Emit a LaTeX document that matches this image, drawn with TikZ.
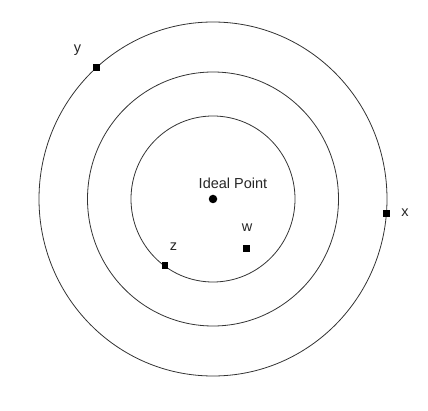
\documentclass[tikz,border=0pt]{standalone}
\usepackage{fontspec}
\setmainfont{Liberation Sans}
\usepackage{tikz}

\tikzset{
    ring/.style={draw=black!80, line width=0.8pt},
    sqmark/.style={fill=black, inner sep=0pt, minimum size=6.5pt},
    dotmark/.style={circle, fill=black, inner sep=0pt, minimum size=8.5pt},
    lab/.style={font=\fontsize{14.5}{17}\selectfont, text=black!85, inner sep=0pt}
}

\begin{document}
\begin{tikzpicture}[x=1pt, y=-1pt]
        \useasboundingbox (0, 0) rectangle (428, 411);
        % Circles
        \coordinate (centre) at (213, 199);
        \draw [ring] (centre) circle [x radius=174, y radius=177];
        \draw [ring] (centre) circle [x radius=125.5, y radius=127];
        \draw [ring] (centre) circle [x radius=82, y radius=83];
        % Points
        \node [dotmark] (ideal) at (centre) {};
        \node [sqmark] (y) at (96.5, 67.5) {};
        \node [sqmark] (x) at (386.5, 213.5) {};
        \node [sqmark] (z) at (165, 265.5) {};
        \node [sqmark] (w) at (246.5, 248.5) {};
        % Labels
        \node [lab] (ideallab) at (233, 183) {Ideal Point};
        \node [lab] (ylab) at (77.5, 50) {y};
        \node [lab] (xlab) at (405, 212.5) {x};
        \node [lab] (zlab) at (173.5, 246.5) {z};
        \node [lab] (wlab) at (247, 228) {w};
    \end{tikzpicture}
\end{document}
